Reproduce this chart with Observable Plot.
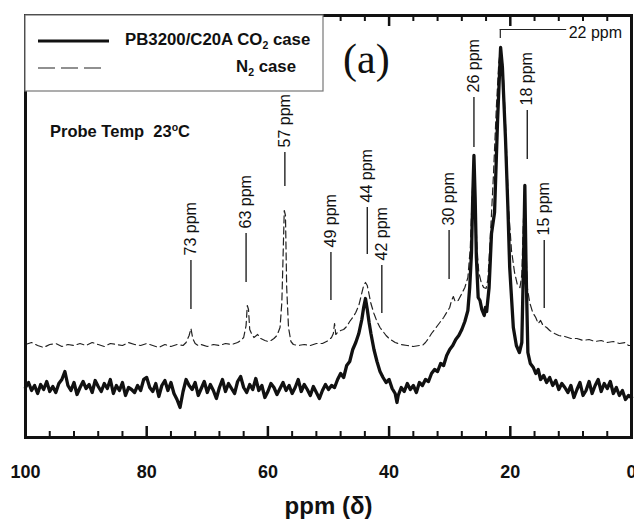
<!DOCTYPE html>
<html><head><meta charset="utf-8">
<script src="https://cdn.jsdelivr.net/npm/d3@7"></script>
<script src="https://cdn.jsdelivr.net/npm/@observablehq/plot@0.6"></script>
<style>
body{margin:0;background:#fff}
#chart{position:relative;width:634px;height:524px}
g[aria-label="x-axis label"] text{font-size:24px;font-weight:bold}
</style></head><body><div id="chart"></div>
<script>
// PB3200/C20A CO2 case (solid): [ppm, intensity]
const co2 = [[100,50],[99.5,55],[99,47],[98.5,52],[98,44],[97.5,53],[97,48],[96.5,56],[96,46],[95.5,51],[95,45],[94.5,54],[94,58],[93.5,66],[93,52],[92.5,47],[92,55],[91.5,43],[91,50],[90.5,56],[90,49],[89.5,53],[89,45],[88.5,57],[88,51],[87.5,46],[87,54],[86.5,49],[86,58],[85.5,44],[85,52],[84.5,47],[84,55],[83.5,42],[83,50],[82.5,48],[82,45],[81.5,52],[81,47],[80.5,58],[80,60],[79.5,50],[79,46],[78.5,54],[78,41],[77.5,52],[77,57],[76.5,47],[76,55],[75.5,44],[75,38],[74.5,30],[74,46],[73.5,58],[73,52],[72.5,48],[72,55],[71.5,42],[71,49],[70.5,56],[70,45],[69.5,53],[69,47],[68.5,39],[68,50],[67.5,58],[67,46],[66.5,54],[66,49],[65.5,44],[65,56],[64.5,61],[64,50],[63.5,45],[63,53],[62.5,48],[62,59],[61.5,47],[61,52],[60.5,40],[60,46],[59.5,54],[59,50],[58.5,43],[58,49],[57.5,55],[57,47],[56.5,52],[56,44],[55.5,50],[55,58],[54.5,46],[54,53],[53.5,48],[53,42],[52.5,51],[52,45],[51.5,39],[51,47],[50.5,53],[50,48],[49.5,52],[49,50],[48.5,58],[48,64],[47.5,60],[47,72],[46.5,76],[46,88],[45.5,95],[45,104],[44.5,118],[44.2,130],[43.9,139],[43.6,128],[43.3,115],[43,104],[42.5,88],[42,76],[41.5,66],[41,60],[40.5,55],[40,58],[39.5,49],[39,44],[38.7,35],[38.5,42],[38,50],[37.5,46],[37,54],[36.5,48],[36,52],[35.5,45],[35,55],[34.5,52],[34,58],[33.5,56],[33,64],[32.5,68],[32,66],[31.5,74],[31,72],[30.5,82],[30,88],[29.5,92],[29,98],[28.5,102],[28,108],[27.5,116],[27,127],[26.7,150],[26.4,185],[26.2,240],[26,282],[25.8,240],[25.6,180],[25.3,140],[25,137],[24.7,128],[24.3,122],[24.1,130],[23.9,126],[23.5,150],[23.1,204],[22.6,225],[22.1,317],[21.6,390],[21.3,370],[20.8,300],[20.4,230],[20.1,170],[19.5,110],[19,92],[18.5,85],[18.1,95],[17.8,180],[17.6,252],[17.4,170],[17.1,85],[16.7,74],[16.2,70],[15.8,64],[15.4,68],[15,58],[14.5,62],[14,55],[13.5,60],[13,52],[12.5,57],[12,48],[11.5,54],[11,50],[10.5,45],[10,52],[9.5,40],[9,48],[8.5,55],[8,42],[7.5,47],[7,56],[6.5,44],[6,52],[5.5,58],[5,46],[4.5,54],[4,49],[3.5,56],[3,44],[2.5,50],[2,42],[1.5,47],[1,38],[0.5,42],[0,40]];

// N2 case (dashed): [ppm, intensity]
const n2 = [[100,93],[99,95],[98,92],[97,90],[96,93],[95,94],[94,91],[93,93],[92,92],[91,94],[90,92],[89,95],[88,93],[87,91],[86,94],[85,93],[84,92],[83,95],[82,93],[81,92],[80,94],[79,92],[78,90],[77,93],[76,91],[75,93],[74,92],[73.5,95],[73,102],[72.7,109],[72.4,99],[72,94],[71.5,92],[71,93],[70,91],[69,93],[68,92],[67,94],[66,93],[65,95],[64.5,97],[64,100],[63.6,112],[63.4,132],[63.2,128],[63,108],[62.7,104],[62.3,100],[61.7,103],[61.2,99],[60.5,97],[60,96],[59.5,97],[59,99],[58.5,102],[58,110],[57.7,135],[57.5,180],[57.3,227],[57.1,222],[56.9,150],[56.6,110],[56.2,96],[55.8,93],[55,92],[54,93],[53,92],[52,94],[51,94],[50,97],[49.5,100],[49.2,104],[49,114],[48.8,103],[48.5,105],[48,107],[47.5,108],[47,111],[46.5,116],[46,120],[45.5,125],[45,132],[44.6,142],[44.2,152],[43.9,155],[43.6,152],[43.3,143],[43,134],[42.5,124],[42,116],[41.5,110],[41,106],[40.5,102],[40,99],[39.5,97],[39,95],[38.5,94],[38,93],[37,92],[36,91],[35,92],[34.5,92],[34,95],[33.5,99],[33,104],[32.5,108],[32,112],[31.5,116],[31,120],[30.5,125],[30,130],[29.7,137],[29.4,141],[29.1,136],[28.6,137],[28,144],[27.5,150],[27,160],[26.6,190],[26.3,240],[26.05,275],[25.8,235],[25.5,190],[25.2,165],[24.8,155],[24.4,150],[24,149],[23.7,158],[23.3,200],[22.8,260],[22.3,330],[21.9,375],[21.6,388],[21.2,370],[20.7,300],[20.3,230],[19.8,187],[19.3,165],[18.8,152],[18.4,150],[18.1,163],[17.85,215],[17.65,240],[17.45,200],[17.2,150],[16.8,135],[16.3,125],[15.8,120],[15.4,114],[15,117],[14.6,112],[14,110],[13.5,107],[12.7,104],[12,102],[11,101],[10,99],[9,99],[8,97],[7,98],[6,96],[5,97],[4,95],[3,96],[2,94],[1,95],[0.5,92],[0,92]];

// axis ticks
const majorTicks = [100, 80, 60, 40, 20, 0];
const minorTicks = [96, 92, 88, 84, 76, 72, 68, 64, 56, 52, 48, 44, 36, 32, 28, 24, 16, 12, 8, 4];

// peak annotations
const annPpm   = [72.7, 63.6, 57.2, 49.6, 43.6, 41.2, 30.1, 26.0, 17.2, 14.4];
const annLabel = ["73 ppm","63 ppm","57 ppm","49 ppm","44 ppm","42 ppm","30 ppm","26 ppm","18 ppm","15 ppm"];
const annLow   = [128, 155, 251, 137, 183, 124, 158, 290, 278, 129];
const annHigh  = [177, 204, 285, 185, 230, 172, 207, 340, 327, 197];
// 22 ppm bracket
const brPpm = 21.65, brEnd = 10.7, brLow = 399, brHigh = 408, brLabel = "22 ppm";

const ann = annPpm.map((p, i) => ({ppm: p, label: annLabel[i], lo: annLow[i], hi: annHigh[i]}));

const FH = 422; // frame height
const font = "'Liberation Sans', Arial, sans-serif";

const chart = Plot.plot({
  width: 634, height: 524,
  marginTop: 15, marginBottom: 87, marginLeft: 25, marginRight: 3,
  style: {fontFamily: font, background: "white", color: "#111", overflow: "visible"},
  x: {domain: [100, 0]},
  y: {domain: [0, 422], axis: null},
  marks: [
    Plot.line(n2, {x: d => d[0], y: d => d[1], stroke: "#222", strokeWidth: 1.2, strokeDasharray: "7,4", curve: "linear"}),
    Plot.line(co2, {x: d => d[0], y: d => d[1], stroke: "#111", strokeWidth: 3.3, strokeLinejoin: "round", curve: "linear"}),
    Plot.ruleX(ann, {x: "ppm", y1: "lo", y2: "hi", stroke: "#222", strokeWidth: 1.4}),
    Plot.text(ann, {x: "ppm", y: "hi", text: "label", rotate: -90, textAnchor: "start", dy: -5, fontSize: 16, fill: "#111"}),
    Plot.ruleX([brPpm], {x: d => d, y1: brLow, y2: brHigh, stroke: "#222", strokeWidth: 1.2}),
    Plot.ruleY([brHigh], {y: d => d, x1: brPpm, x2: brEnd, stroke: "#222", strokeWidth: 1.2}),
    Plot.text([brLabel], {x: brEnd, y: brHigh, text: d => d, textAnchor: "start", dx: 2, dy: 3, fontSize: 16, fill: "#111"}),
    // inward ticks, bottom and top
    Plot.tickX(minorTicks, {x: d => d, insetTop: FH - 6, stroke: "#111", strokeWidth: 2}),
    Plot.tickX(majorTicks, {x: d => d, insetTop: FH - 11, stroke: "#111", strokeWidth: 2.5}),
    Plot.tickX(minorTicks, {x: d => d, insetBottom: FH - 6, stroke: "#111", strokeWidth: 2}),
    Plot.tickX(majorTicks, {x: d => d, insetBottom: FH - 11, stroke: "#111", strokeWidth: 2.5}),
    Plot.axisX({ticks: majorTicks, tickSize: 0, tickPadding: 28, fontSize: 18, fontWeight: "bold", tickFormat: d => String(d),
      label: "ppm (δ)", labelAnchor: "center", labelArrow: "none", labelOffset: 76}),
    Plot.frame({stroke: "#111", strokeWidth: 3})
  ]
});

document.getElementById("chart").appendChild(chart);

// legend and in-plot notes
const svg = d3.select(chart);
const g = svg.append("g").attr("font-family", font).attr("fill", "#111").attr("text-anchor", "start");
g.append("rect").attr("x", 25).attr("y", 15).attr("width", 298).attr("height", 76)
  .attr("fill", "white").attr("stroke", "#777").attr("stroke-width", 1.2);
g.append("line").attr("x1", 38).attr("x2", 109).attr("y1", 41).attr("y2", 41)
  .attr("stroke", "#111").attr("stroke-width", 3);
g.append("line").attr("x1", 38).attr("x2", 102).attr("y1", 68).attr("y2", 68)
  .attr("stroke", "#222").attr("stroke-width", 1.2).attr("stroke-dasharray", "17,6");
const t1 = g.append("text").attr("x", 125).attr("y", 45).attr("font-size", 16.8).attr("font-weight", "bold").attr("text-anchor", "start");
t1.append("tspan").text("PB3200/C20A CO");
t1.append("tspan").attr("font-size", 10.5).attr("dy", 4).text("2");
t1.append("tspan").attr("dy", -4).text(" case");
const t2 = g.append("text").attr("x", 296).attr("y", 72).attr("font-size", 16.8).attr("font-weight", "bold").attr("text-anchor", "end");
t2.append("tspan").text("N");
t2.append("tspan").attr("font-size", 10.5).attr("dy", 4).text("2");
t2.append("tspan").attr("dy", -4).text(" case");
g.append("text").attr("x", 343).attr("y", 73).attr("font-family", "'Liberation Serif', 'Times New Roman', serif")
  .attr("font-size", 42).attr("text-anchor", "start").text("(a)");
const t3 = g.append("text").attr("x", 50).attr("y", 137).attr("font-size", 16.5).attr("font-weight", "bold").attr("text-anchor", "start");
t3.append("tspan").text("Probe Temp  23");
t3.append("tspan").attr("font-size", 10.5).attr("dy", -6).text("o");
t3.append("tspan").attr("dy", 6).text("C");
</script>
</body></html>
